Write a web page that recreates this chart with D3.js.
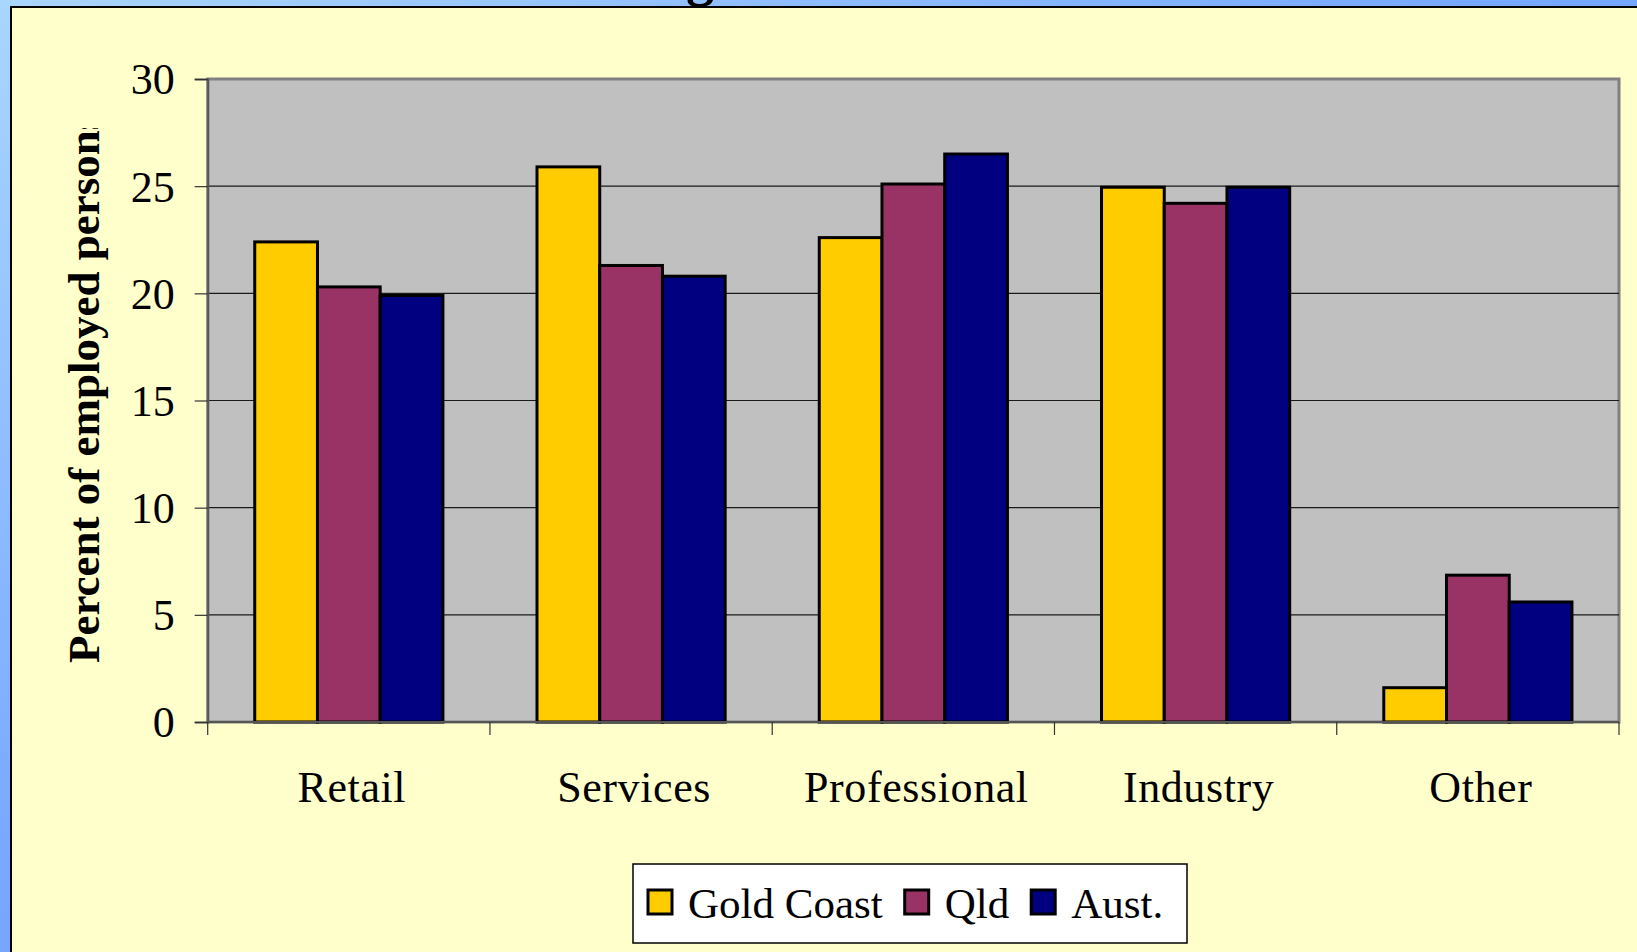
<!DOCTYPE html>
<html>
<head>
<meta charset="utf-8">
<script src="https://cdn.jsdelivr.net/npm/d3@7/dist/d3.min.js"></script>
<style>
  html, body { margin: 0; padding: 0; overflow: hidden; }
  svg { display: block; }
  text { font-family: "Liberation Serif", "Times New Roman", serif; }
</style>
</head>
<body>
<svg id="chart" width="1637" height="952"></svg>
<script>
const categories = ["Retail", "Services", "Professional", "Industry", "Other"];
const seriesNames = ["Gold Coast", "Qld", "Aust."];
const goldCoast = [22.4, 25.9, 22.6, 24.95, 1.6];
const qld = [20.3, 21.3, 25.1, 24.2, 6.85];
const aust = [19.9, 20.8, 26.5, 24.95, 5.6];
const seriesColors = ["#FFCC00", "#993366", "#000080"];
const yTicks = [0, 5, 10, 15, 20, 25, 30];
const yLabel = "Percent of employed persons";

const seriesValues = [goldCoast, qld, aust];
const data = categories.map((c, i) => ({
  category: c,
  values: seriesNames.map((s, j) => ({ series: s, value: seriesValues[j][i] }))
}));

const W = 1637, H = 952;
const svg = d3.select("#chart");
const defs = svg.append("defs");

const grad = defs.append("linearGradient").attr("id", "bg")
  .attr("x1", "0%").attr("y1", "0%").attr("x2", "100%").attr("y2", "100%");
grad.append("stop").attr("offset", "0%").attr("stop-color", "#a9d6ff");
grad.append("stop").attr("offset", "45%").attr("stop-color", "#78a8ff");
grad.append("stop").attr("offset", "100%").attr("stop-color", "#5f8ff8");

svg.append("rect").attr("width", W).attr("height", H).attr("fill", "url(#bg)");

// panel
svg.append("rect").attr("x", 11).attr("y", 7).attr("width", W + 20).attr("height", H + 20)
  .attr("fill", "#ffffcc").attr("stroke", "#000").attr("stroke-width", 2);

// clipped title remnant
defs.append("clipPath").attr("id", "titleClip").append("rect")
  .attr("x", 0).attr("y", 0).attr("width", W).attr("height", 7);
svg.append("text").attr("clip-path", "url(#titleClip)")
  .attr("x", 686).attr("y", -5)
  .attr("font-size", 56).attr("font-weight", "bold").attr("fill", "#000")
  .text("g");

const plot = { left: 207.7, right: 1619, top: 79, bottom: 722 };

const x0 = d3.scaleBand().domain(categories).range([plot.left, plot.right]).padding(0);
const x1 = d3.scaleBand().domain(seriesNames).range([0, x0.bandwidth()])
  .paddingInner(0).paddingOuter(0.75);
const y = d3.scaleLinear().domain([0, 30]).range([plot.bottom, plot.top]);
const color = d3.scaleOrdinal().domain(seriesNames).range(seriesColors);

// plot area
svg.append("rect")
  .attr("x", plot.left).attr("y", plot.top)
  .attr("width", plot.right - plot.left).attr("height", plot.bottom - plot.top)
  .attr("fill", "#c0c0c0").attr("stroke", "#808080").attr("stroke-width", 3);

// gridlines
svg.append("g").selectAll("line").data(yTicks.filter(t => t > 0 && t < 30)).join("line")
  .attr("x1", plot.left).attr("x2", plot.right)
  .attr("y1", d => y(d)).attr("y2", d => y(d))
  .attr("stroke", "#1a1a1a").attr("stroke-width", 1.2);

// y axis
const yAxis = d3.axisLeft(y).tickValues(yTicks).tickSize(13).tickPadding(20);
const gy = svg.append("g").attr("transform", `translate(${plot.left},0)`).call(yAxis);
gy.select(".domain").attr("stroke", "#555").attr("stroke-width", 2);
gy.selectAll(".tick line").attr("stroke", "#333").attr("stroke-width", 1.2);
gy.selectAll(".tick text")
  .attr("font-family", "'Liberation Serif', 'Times New Roman', serif")
  .attr("font-size", 44).attr("fill", "#000").attr("dy", "0.34em");

// bars
const groups = svg.append("g").selectAll("g").data(data).join("g")
  .attr("transform", d => `translate(${x0(d.category)},0)`);
groups.selectAll("rect").data(d => d.values).join("rect")
  .attr("x", d => x1(d.series))
  .attr("width", x1.bandwidth())
  .attr("y", d => y(d.value))
  .attr("height", d => y(0) - y(d.value))
  .attr("fill", d => color(d.series))
  .attr("stroke", "#000").attr("stroke-width", 3);

// x axis
const xTickPositions = categories.map(c => x0(c)).concat([plot.right]);
const gx = svg.append("g");
gx.append("line").attr("x1", plot.left).attr("x2", plot.right)
  .attr("y1", plot.bottom).attr("y2", plot.bottom)
  .attr("stroke", "#555").attr("stroke-width", 2);
gx.selectAll("line.tk").data(xTickPositions).join("line").attr("class", "tk")
  .attr("x1", d => d).attr("x2", d => d)
  .attr("y1", plot.bottom).attr("y2", plot.bottom + 13)
  .attr("stroke", "#333").attr("stroke-width", 1.2);
gx.selectAll("text").data(categories).join("text")
  .attr("x", d => x0(d) + x0.bandwidth() / 2 + 3)
  .attr("y", 802)
  .attr("text-anchor", "middle")
  .attr("font-size", 44).attr("fill", "#000")
  .attr("letter-spacing", 0.6)
  .text(d => d);

// y label
defs.append("clipPath").attr("id", "ylabClip").append("rect")
  .attr("x", 0).attr("y", 128).attr("width", 200).attr("height", H);
svg.append("g").attr("clip-path", "url(#ylabClip)")
  .append("text")
  .attr("transform", "translate(99,663) rotate(-90)")
  .attr("font-size", 45).attr("font-weight", "bold").attr("fill", "#000")
  .text(yLabel);

// legend
const legend = svg.append("g");
legend.append("rect")
  .attr("x", 633).attr("y", 864).attr("width", 554).attr("height", 79)
  .attr("fill", "#fff").attr("stroke", "#000").attr("stroke-width", 1.5);
let lx = 648;
seriesNames.forEach((s, i) => {
  legend.append("rect").attr("x", lx).attr("y", 890).attr("width", 24).attr("height", 24)
    .attr("fill", color(s)).attr("stroke", "#000").attr("stroke-width", 3);
  const t = legend.append("text").attr("x", lx + 40).attr("y", 918)
    .attr("font-size", 43).attr("fill", "#000").text(s);
  lx = lx + 40 + t.node().getComputedTextLength() + 22;
});
</script>
</body>
</html>
